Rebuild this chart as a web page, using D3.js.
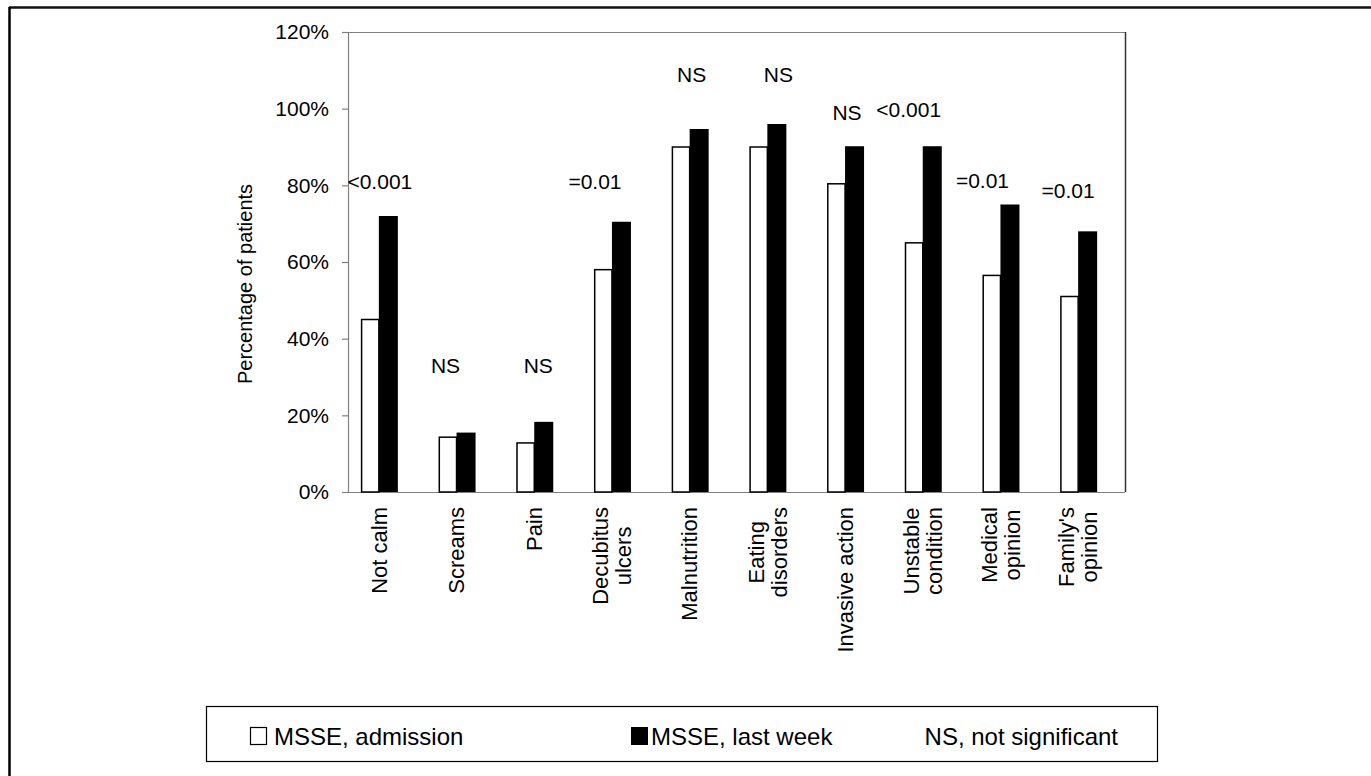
<!DOCTYPE html>
<html>
<head>
<meta charset="utf-8">
<script src="https://cdn.jsdelivr.net/npm/d3@7"></script>
<style>
  html, body { margin: 0; padding: 0; background: #fff; }
  svg { display: block; font-family: "Liberation Sans", Arial, sans-serif; }
</style>
</head>
<body>
<svg id="chart" width="1371" height="776"></svg>
<script>
// ---------------- data ----------------
const categories = [
  ["Not calm"], ["Screams"], ["Pain"], ["Decubitus", "ulcers"], ["Malnutrition"],
  ["Eating", "disorders"], ["Invasive action"], ["Unstable", "condition"],
  ["Medical", "opinion"], ["Family's", "opinion"]
];
const admission = [45, 14.3, 12.8, 58, 90, 90, 80.4, 65, 56.5, 51];
const lastWeek  = [72, 15.5, 18.3, 70.5, 94.7, 96, 90.2, 90.2, 75, 68];
const pLabels   = ["<0.001", "NS", "NS", "=0.01", "NS", "NS", "NS", "<0.001", "=0.01", "=0.01"];
const pLevels   = [81, 33, 33, 81, 109, 109, 99, 99.8, 81.2, 78.7];
const yTicks    = [0, 20, 40, 60, 80, 100, 120];
const seriesNames = ["MSSE, admission", "MSSE, last week"];
const noteText  = "NS, not significant";
const yTitle    = "Percentage of patients";

// ---------------- layout ----------------
const svg = d3.select("#chart");
const frame = { left: 348, right: 1125, top: 32, bottom: 492 };
const catRange = [340, 1117];
const pLabelDx = [1, -11, 4, -17, 2, 11, 2, -14, -18, -10];

const keys = categories.map(c => c.join(" "));
const x = d3.scaleBand().domain(keys).range(catRange).paddingInner(0).paddingOuter(0);
const groupW = 36;
const x1 = d3.scaleBand().domain(["adm", "last"]).range([0, groupW]);
const y = d3.scaleLinear().domain([0, 120]).range([frame.bottom, frame.top]);

// outer frame (top and left)
svg.append("line").attr("x1", 9).attr("x2", 1371).attr("y1", 7.5).attr("y2", 7.5)
  .attr("stroke", "#111").attr("stroke-width", 2.5);
svg.append("line").attr("x1", 9.5).attr("x2", 9.5).attr("y1", 7).attr("y2", 776)
  .attr("stroke", "#000").attr("stroke-width", 2.5);

// plot frame (top/right)
svg.append("line").attr("x1", frame.left).attr("x2", frame.right)
  .attr("y1", frame.top + 0.5).attr("y2", frame.top + 0.5).attr("stroke", "#808080").attr("stroke-width", 1.2);
svg.append("line").attr("x1", frame.right + 0.5).attr("x2", frame.right + 0.5)
  .attr("y1", frame.top).attr("y2", frame.bottom).attr("stroke", "#333").attr("stroke-width", 1.5);

// y axis
const yAxis = d3.axisLeft(y).tickValues(yTicks).tickFormat(d => d + "%").tickSize(6).tickPadding(13);
const gy = svg.append("g").attr("transform", `translate(${frame.left},0)`).call(yAxis);
gy.select(".domain").attr("stroke", "#808080").attr("stroke-width", 1.2);
gy.selectAll(".tick line").attr("stroke", "#808080").attr("stroke-width", 1.2);
gy.selectAll(".tick text").attr("font-size", 21).attr("fill", "#000")
  .attr("font-family", "'Liberation Sans', Arial, sans-serif");

// x baseline
svg.append("line").attr("x1", frame.left).attr("x2", frame.right)
  .attr("y1", frame.bottom + 0.5).attr("y2", frame.bottom + 0.5).attr("stroke", "#808080").attr("stroke-width", 1.2);

// y title
svg.append("text")
  .attr("transform", `translate(252,${(frame.top + frame.bottom) / 2 + 22}) rotate(-90)`)
  .attr("text-anchor", "middle").attr("font-size", 20).text(yTitle);

// bars
const groups = svg.append("g").selectAll("g").data(keys).join("g")
  .attr("transform", k => `translate(${x(k) + x.bandwidth() / 2 - groupW / 2},0)`);
groups.append("rect")
  .attr("x", x1("last"))
  .attr("width", x1.bandwidth() + 1)
  .attr("y", (k, i) => y(lastWeek[i]))
  .attr("height", (k, i) => y(0) - y(lastWeek[i]))
  .attr("fill", "#000");
groups.append("rect")
  .attr("x", x1("adm") + 0.75)
  .attr("width", x1.bandwidth() - 0.75)
  .attr("y", (k, i) => y(admission[i]))
  .attr("height", (k, i) => y(0) - y(admission[i]))
  .attr("fill", "#fff").attr("stroke", "#000").attr("stroke-width", 1.5);

// significance labels
svg.append("g").selectAll("text").data(pLabels).join("text")
  .attr("x", (d, i) => x(keys[i]) + x.bandwidth() / 2 + pLabelDx[i])
  .attr("y", (d, i) => y(pLevels[i]))
  .attr("dy", "0.35em")
  .attr("text-anchor", "middle")
  .attr("font-size", 21)
  .text(d => d);

// x category labels (rotated, top aligned, lines centered)
const labelTop = 507, lineGap = 23, xFont = 22;
categories.forEach((lines, i) => {
  const cx = x(keys[i]) + x.bandwidth() / 2;
  const g = svg.append("g");
  const texts = lines.map(l => g.append("text").attr("font-size", xFont).text(l));
  const maxW = d3.max(texts, t => t.node().getComputedTextLength());
  const n = lines.length;
  texts.forEach((t, j) => {
    const lx = cx + (j - (n - 1) / 2) * lineGap;
    t.attr("text-anchor", "middle")
     .attr("transform", `translate(${lx},${labelTop + maxW / 2}) rotate(-90)`)
     .attr("dy", "0.35em");
  });
});

// legend
const lg = svg.append("g");
lg.append("rect").attr("x", 206.5).attr("y", 706.5).attr("width", 951).attr("height", 55)
  .attr("fill", "#fff").attr("stroke", "#000").attr("stroke-width", 1.2);
const legBase = 745, legFont = 24;
lg.append("rect").attr("x", 250.5).attr("y", 727.5).attr("width", 16).attr("height", 17)
  .attr("fill", "#fff").attr("stroke", "#000").attr("stroke-width", 1.2);
lg.append("text").attr("x", 274).attr("y", legBase).attr("font-size", legFont).text(seriesNames[0]);
lg.append("rect").attr("x", 631).attr("y", 727).attr("width", 17).attr("height", 18).attr("fill", "#000");
lg.append("text").attr("x", 651).attr("y", legBase).attr("font-size", legFont).text(seriesNames[1]);
lg.append("text").attr("x", 1118).attr("y", legBase).attr("text-anchor", "end")
  .attr("font-size", legFont).text(noteText);
</script>
</body>
</html>
